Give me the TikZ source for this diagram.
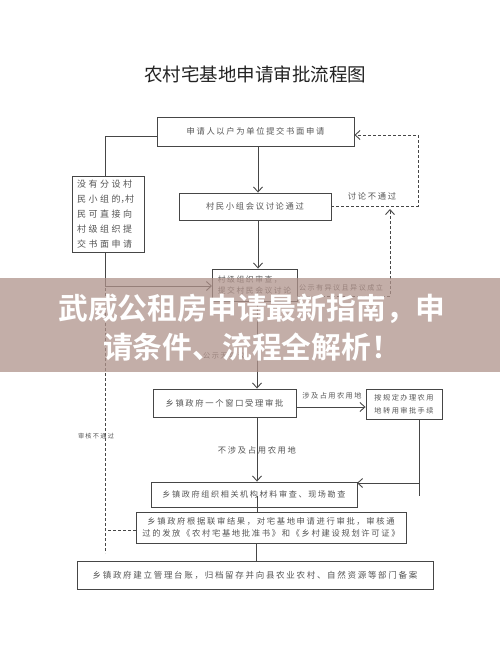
\documentclass[tikz,border=0pt]{standalone}
\usepackage{fontspec}
\usetikzlibrary{arrows.meta}
\newfontfamily\cjk[BoldFont={Noto Sans CJK SC Bold}]{Noto Sans CJK SC}
\newfontfamily\cjksp[LetterSpace=20]{Noto Sans CJK SC}
\definecolor{linec}{RGB}{70,70,70}
\definecolor{txtc}{RGB}{85,85,85}
\definecolor{bannerc}{RGB}{176,147,139}
\tikzset{
  box/.style={draw=linec, line width=0.9pt, inner sep=0pt, align=center, text=txtc, font=\cjksp\fontsize{8.3}{12}\selectfont},
  lbl/.style={inner sep=0pt, text=txtc, font=\cjksp\fontsize{7.2}{10}\selectfont},
  conn/.style={draw=linec, line width=0.9pt},
  arr/.style={conn, -{Straight Barb[length=5pt,width=9pt]}},
  dconn/.style={conn, dashed, dash pattern=on 3pt off 2pt},
  darr/.style={dconn, -{Straight Barb[length=5pt,width=9pt]}},
}
\begin{document}
\begin{tikzpicture}[x=1pt,y=-1pt]
\useasboundingbox (0,0) rectangle (500,653);
\fill[white] (0,0) rectangle (500,653);
% title
\node[inner sep=0pt, text={rgb,255:red,35;green,35;blue,35}, font=\cjk\fontsize{18.5}{20}\selectfont] (title) at (255,74) {农村宅基地申请审批流程图};
% boxes
\node[box, minimum width=152pt, minimum height=27pt] (b2) at (255,206.5) {村民小组会议讨论通过};
\node[box, minimum width=197pt, minimum height=29pt] (b1) at (255.5,131.5) {申请人以户为单位提交书面申请};
\node[box, minimum width=72pt, minimum height=76pt, font=\cjk\fontsize{9}{15}\selectfont, align=left, text width=62pt] (bl) at (108,214) {\addfontfeature{LetterSpace=28}没有分设村\\民小组的{\addfontfeature{RawFeature=+halt}，}村\\民可直接向\\村级组织提\\交书面申请};
\node[box, minimum width=85pt, minimum height=32pt, align=left, font=\cjksp\fontsize{7.8}{10.5}\selectfont] (b3) at (254.5,285) {村级组织审查，\\提交村民会议讨论};
\node[box, minimum width=143pt, minimum height=28pt] (b4) at (224.5,403) {乡镇政府一个窗口受理审批};
\node[box, minimum width=76pt, minimum height=30pt, font=\cjksp\fontsize{7.2}{13}\selectfont] (b5) at (404,404) {按规定办理农用\\地转用审批手续};
\node[box, minimum width=206pt, minimum height=25pt, font=\cjksp\fontsize{8.1}{12}\selectfont] (b7) at (254,494.5) {乡镇政府组织相关机构材料审查、现场勘查};
\node[box, minimum width=270pt, minimum height=31pt, font=\cjksp\fontsize{8.3}{12.5}\selectfont] (b6) at (271,527.5) {乡镇政府根据联审结果，对宅基地申请进行审批，审核通\\过的发放《农村宅基地批准书》和《乡村建设规划许可证》};
\node[box, minimum width=356pt, minimum height=28pt, font=\cjksp\fontsize{8.5}{12}\selectfont] (b8) at (255,575) {乡镇政府建立管理台账，归档留存并向县农业农村、自然资源等部门备案};
% helper coordinates
\coordinate (sp) at (258,0);
\coordinate (sp2) at (257,0);
\coordinate (sp3) at (256,0);
\coordinate (lx) at (105,0);
\coordinate (r1) at (418,0);
\coordinate (r2) at (390,0);
\coordinate (r3) at (419,0);
\coordinate (b3e) at (297,296);
\coordinate (b3w) at (212,286);
\coordinate (b4e) at (296,407);
\coordinate (b7e) at (357,483);
\coordinate (ldtop) at (105,288);
\coordinate (ldbot) at (105,553);
\coordinate (b7in) at (257,496);
\coordinate (y136) at (0,136);
\coordinate (y135) at (0,135);
\coordinate (y206) at (0,206);
\coordinate (y209) at (0,209);
\coordinate (y496) at (0,496);
\coordinate (y530) at (0,530);
% solid connectors
\draw[arr] (b1.south -| sp) -- (b2.north -| sp);
\draw[arr] (b2.south -| sp) -- (b3.north -| sp);
\draw[arr] (b3.south -| sp2) -- (b4.north -| sp2);
\draw[arr] (b4.south -| sp2) -- (b7.north -| sp2);
\draw[conn] (b7in) -- (b6.north -| b7in);
\draw[conn] (b6.south -| sp3) -- (b8.north -| sp3);
\draw[conn] (b1.west |- y136) -| (bl.north -| lx);
\draw[arr] (bl.south -| lx) |- (b3w);
\draw[arr] (b4e) -- (b5.west |- b4e);
\draw[conn] (b5.south -| r3) -- (r3 |- y496);
\draw[arr] (r3 |- b7e) -- (b7e);
% dashed connectors
\draw[darr] (b2.east |- y206) -| (r1 |- y135) -- (b1.east |- y135);
\draw[darr] (b3e) -| (r2 |- y209);
\draw[dconn] (ldtop) -- (ldbot);
\draw[dconn] (b6.west |- y530) -- (lx |- y530);
% labels
\node[lbl, font=\cjksp\fontsize{8.3}{10}\selectfont] (l1) at (372,196) {讨论不通过};
\node[lbl, font=\cjksp\fontsize{7.1}{10}\selectfont] (l2) at (341,288) {公示有异议且异议成立};
\node[lbl, anchor=west] (l3) at (203,356) {公示无异议};
\node[lbl] (l4) at (332,396) {涉及占用农用地};
\node[lbl, font=\cjksp\fontsize{8.3}{10}\selectfont] (l5) at (257,450) {不涉及占用农用地};
\node[lbl, font=\cjksp\fontsize{6.2}{10}\selectfont] (l6) at (96,436) {审核不通过};
% banner
\fill[bannerc, fill opacity=0.75] (0,278) rectangle (500,372);
\node[inner sep=0pt, text=white, font=\cjk\bfseries\fontsize{29.8}{39}\selectfont, align=center] (banner) at (252,327.5) {武威公租房申请最新指南，申\\请条件、流程全解析！};
\end{tikzpicture}
\end{document}
